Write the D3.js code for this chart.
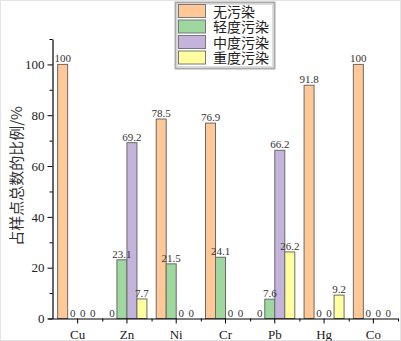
<!doctype html>
<meta charset="utf-8">
<style>
body { margin: 0; background: #fff; }
svg { display: block; }
.tick text { font-family: "Liberation Serif", "DejaVu Serif", serif; fill: #222; }
.vlabel { font-family: "Liberation Serif", serif; font-size: 11px; fill: #333; text-anchor: middle; }
</style>
<div id="chart"></div>
<script src="https://cdn.jsdelivr.net/npm/d3@7"></script>
<script>
  var categories = ["Cu", "Zn", "Ni", "Cr", "Pb", "Hg", "Co"];
  var seriesNames = ["无污染", "轻度污染", "中度污染", "重度污染"];
  var noPollution = [100, 0, 78.5, 76.9, 0, 91.8, 100];
  var lightPollution = [0, 23.1, 21.5, 24.1, 7.6, 0, 0];
  var moderatePollution = [0, 69.2, 0, 0, 66.2, 0, 0];
  var heavyPollution = [0, 7.7, 0, 0, 26.2, 9.2, 0];
  var yTicks = [0, 20, 40, 60, 80, 100];
  var colours = ["#FFC896", "#9ED89E", "#C4B4DC", "#FFFFA0"];

  var seriesValues = [noPollution, lightPollution, moderatePollution, heavyPollution];

  var W = 401, H = 341;
  var svg = d3.select("#chart").append("svg")
    .attr("width", W).attr("height", H);

  // faint frame round the picture
  svg.append("rect")
    .attr("x", 0.5).attr("y", 0.5).attr("width", W - 1).attr("height", H - 1)
    .attr("fill", "none").attr("stroke", "#e4e4e4");

  let x = d3.scaleBand()
    .domain(categories)
    .range([53, 398]);

  let inner = d3.scaleBand()
    .domain(d3.range(seriesNames.length))
    .range([x.bandwidth() / 2 - 20, x.bandwidth() / 2 + 20]);

  let y = d3.scaleLinear()
    .domain([0, 110])
    .range([318.5, 39]);

  // bars
  let data = [];
  categories.forEach((c, i) => {
    seriesValues.forEach((vals, s) => data.push({cat: c, s: s, value: vals[i]}));
  });

  svg.append("g")
    .selectAll("rect")
    .data(data.filter(d => d.value > 0))
    .enter()
    .append("rect")
    .attr("x", d => x(d.cat) + inner(d.s))
    .attr("y", d => y(d.value))
    .attr("width", inner.bandwidth())
    .attr("height", d => y(0) - y(d.value))
    .attr("fill", d => colours[d.s])
    .attr("stroke", "#6a6a6a")
    .attr("stroke-width", 1);

  svg.append("g")
    .selectAll("text")
    .data(data)
    .enter()
    .append("text")
    .attr("class", "vlabel")
    .attr("x", d => x(d.cat) + inner(d.s) + inner.bandwidth() / 2)
    .attr("y", d => y(d.value) - 2)
    .text(d => d.value);

  // y axis
  let yAxis = svg.append("g")
    .attr("transform", "translate(52.5,0)")
    .call(d3.axisLeft(y).tickValues(yTicks).tickSize(5).tickSizeOuter(0).tickPadding(3));
  yAxis.selectAll("text").style("font-size", "13px");
  yAxis.append("g")
    .selectAll("line")
    .data(d3.range(10, 111, 20))
    .enter()
    .append("line")
    .attr("x1", -3).attr("x2", 0)
    .attr("y1", d => y(d) + 0.5).attr("y2", d => y(d) + 0.5)
    .attr("stroke", "#000");
  yAxis.select(".domain").attr("stroke-width", 1.2);

  // x axis
  let xAxis = svg.append("g")
    .attr("transform", "translate(0," + y(0) + ")")
    .call(d3.axisBottom(x).tickSize(5).tickSizeOuter(0).tickPadding(6));
  xAxis.selectAll("text").style("font-size", "13px");
  xAxis.select(".domain").attr("d", "M48.5,0.5H398").attr("stroke-width", 1.2);
  xAxis.append("g")
    .selectAll("line")
    .data(categories.slice(1).concat(["end"]))
    .enter()
    .append("line")
    .attr("x1", d => (d === "end" ? 398 : x(d)) + 0.5)
    .attr("x2", d => (d === "end" ? 398 : x(d)) + 0.5)
    .attr("y1", 0).attr("y2", 3)
    .attr("stroke", "#000");

  // y label
  svg.append("text")
    .attr("transform", "translate(22,176) rotate(-90)")
    .attr("text-anchor", "middle")
    .style("font-family", "'Noto Sans CJK SC', sans-serif")
    .style("font-size", "15px")
    .style("fill", "#333")
    .text("占样点总数的比例/%");

  // legend
  let legend = svg.append("g");
  legend.append("rect")
    .attr("x", 175.5).attr("y", 2.5).attr("width", 99).attr("height", 66)
    .attr("fill", "#fff").attr("stroke", "#aaa").attr("stroke-width", 2);
  legend.append("rect")
    .attr("x", 177.5).attr("y", 4.5).attr("width", 95).attr("height", 62)
    .attr("fill", "none").attr("stroke", "#ddd").attr("stroke-width", 1);

  let item = legend.selectAll(".item")
    .data(seriesNames)
    .enter()
    .append("g")
    .attr("transform", (d, i) => "translate(0," + (4.5 + i * 15.5) + ")");
  item.append("rect")
    .attr("x", 178.5).attr("y", 0).attr("width", 27).attr("height", 13)
    .attr("fill", (d, i) => colours[i])
    .attr("stroke", "#777");
  item.append("text")
    .attr("x", 213).attr("y", 12)
    .style("font-family", "'Noto Sans CJK SC', sans-serif")
    .style("font-size", "14px")
    .style("fill", "#222")
    .text(d => d);
</script>
